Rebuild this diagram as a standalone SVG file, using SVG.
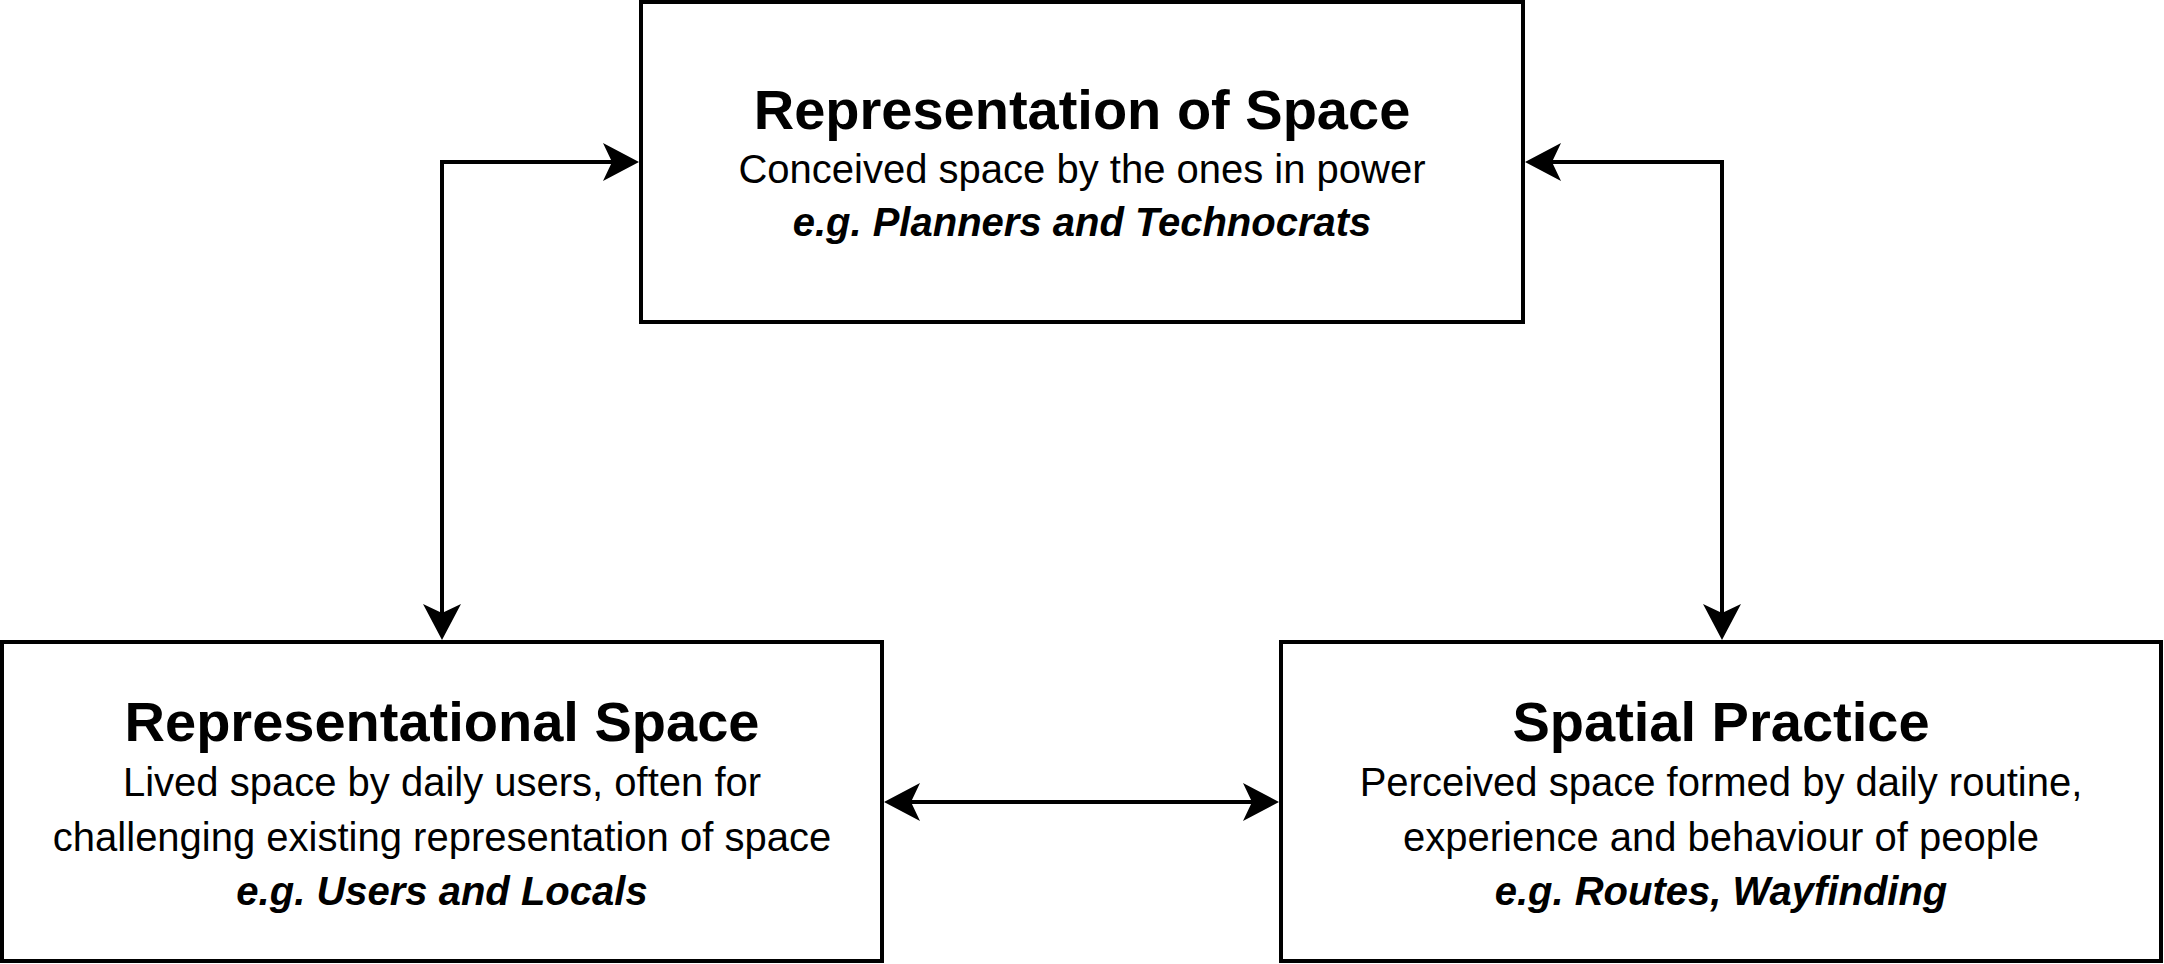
<svg xmlns="http://www.w3.org/2000/svg" width="2164" height="964" viewBox="0 0 2164 964">
  <style>
    .box { fill: #ffffff; stroke: #000000; stroke-width: 4; }
    .conn { fill: none; stroke: #000000; stroke-width: 4; }
    text { font-family: "Liberation Sans", Arial, Helvetica, sans-serif; fill: #000000; text-anchor: middle; }
    .title { font-size: 56px; font-weight: bold; }
    .body { font-size: 40px; }
    .eg { font-size: 40px; font-weight: bold; font-style: italic; }
  </style>
  <defs>
    <marker id="arrow" viewBox="0 0 36 38" refX="9" refY="19" markerWidth="36" markerHeight="38" markerUnits="userSpaceOnUse" orient="auto-start-reverse">
      <path d="M36 19 L0 0 L9 19 L0 38 Z" fill="#000000"/>
    </marker>
  </defs>
  <rect width="2164" height="964" fill="#ffffff"/>
  <g id="connectors">
    <path class="conn" d="M612 162 H442 V613" marker-start="url(#arrow)" marker-end="url(#arrow)"/>
    <path class="conn" d="M1552 162 H1722 V613" marker-start="url(#arrow)" marker-end="url(#arrow)"/>
    <path class="conn" d="M911 802 H1252" marker-start="url(#arrow)" marker-end="url(#arrow)"/>
  </g>
  <g id="representation-of-space">
    <rect class="box" x="641" y="2" width="882" height="320"/>
    <text class="title" x="1082" y="129">Representation of Space</text>
    <text class="body" x="1082" y="183">Conceived space by the ones in power</text>
    <text class="eg" x="1082" y="236">e.g. Planners and Technocrats</text>
  </g>
  <g id="representational-space">
    <rect class="box" x="2" y="642" width="880" height="319"/>
    <text class="title" x="442" y="741">Representational Space</text>
    <text class="body" x="442" y="796">Lived space by daily users, often for</text>
    <text class="body" x="442" y="851">challenging existing representation of space</text>
    <text class="eg" x="442" y="905">e.g. Users and Locals</text>
  </g>
  <g id="spatial-practice">
    <rect class="box" x="1281" y="642" width="880" height="319"/>
    <text class="title" x="1721" y="741">Spatial Practice</text>
    <text class="body" x="1721" y="796">Perceived space formed by daily routine,</text>
    <text class="body" x="1721" y="851">experience and behaviour of people</text>
    <text class="eg" x="1721" y="905">e.g. Routes, Wayfinding</text>
  </g>
</svg>
